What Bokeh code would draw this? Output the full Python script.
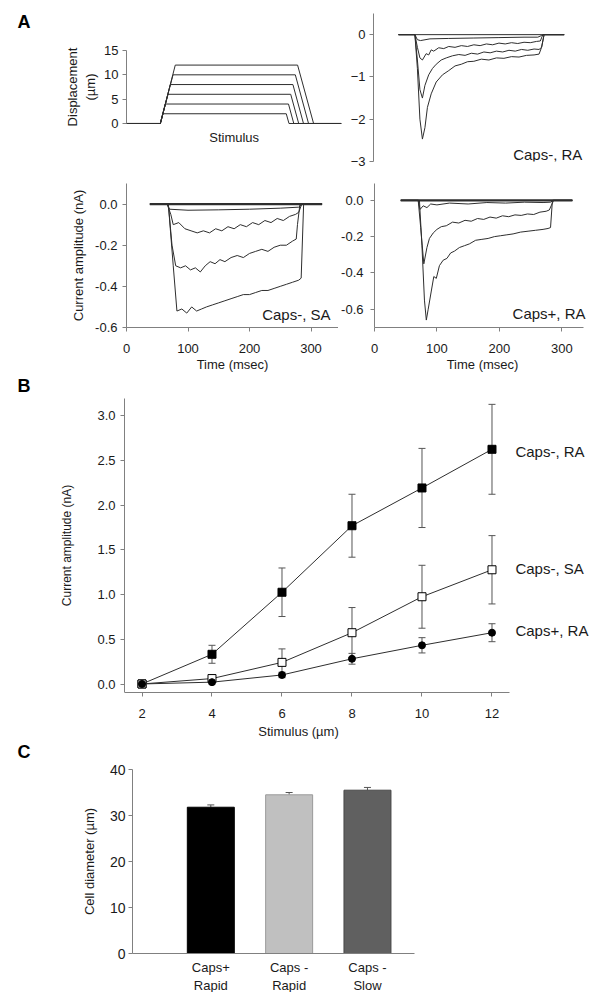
from bokeh.plotting import figure
from bokeh.models import (ColumnDataSource, Whisker, TeeHead, Label, FixedTicker,
                          PrintfTickFormatter, Range1d)
from bokeh.layouts import column, row
from bokeh.embed import file_html
from bokeh.resources import INLINE

FONT = "Liberation Sans"
TXT = "#1a1a1a"
AX = "#808080"
TRACE = "#2e2e2e"

# ---------------- data ----------------
# A, stimulus protocol (time ms, displacement um)
disp_levels = [2, 4, 6, 8, 10, 12]
disp_ramp_start = 55
disp_top_time = [59.3, 63.1, 67.5, 71.2, 75.6, 79.3]
disp_fall_start = [259.8, 263.4, 267.0, 270.6, 274.5, 278.2]
disp_fall_end = [264.2, 272.0, 280.0, 287.8, 296.0, 304.2]
disp_t_begin = 0
disp_t_end = 349
disp_yticks = [0, 5, 10, 15]

# A, Caps-, RA current traces (time ms, current nA)
ra_m_0_t = [40, 304]
ra_m_0_v = [0, 0]
ra_m_1_t = [40, 66, 70, 75, 90, 120, 160, 200, 240, 262, 268, 272, 304]
ra_m_1_v = [0, 0, -0.12, -0.14, -0.1, -0.09, -0.08, -0.07, -0.06, -0.06, -0.02, 0, 0]
ra_m_2_t = [40, 66, 70, 74, 78, 84, 88, 92, 96, 104, 112, 120, 130, 140, 150, 160, 170, 180, 190, 200,
            210, 220, 230, 240, 250, 260, 266, 270, 304]
ra_m_2_v = [0, 0, -0.3, -0.55, -0.6, -0.45, -0.48, -0.36, -0.39, -0.31, -0.33, -0.28, -0.3, -0.26, -0.28,
            -0.24, -0.26, -0.22, -0.24, -0.2, -0.22, -0.19, -0.21, -0.18, -0.19, -0.16, -0.15, 0, 0]
ra_m_3_t = [40, 66, 70, 74, 78, 82, 88, 94, 100, 108, 116, 126, 136, 146, 156, 166, 176, 186, 196, 206,
            216, 226, 236, 246, 256, 264, 268, 272, 304]
ra_m_3_v = [0, 0, -0.6, -1.3, -1.5, -1.2, -0.95, -0.8, -0.7, -0.6, -0.55, -0.5, -0.47, -0.49, -0.44,
            -0.46, -0.41, -0.43, -0.39, -0.41, -0.37, -0.39, -0.35, -0.37, -0.34, -0.35, -0.3, 0, 0]
ra_m_4_t = [40, 66, 70, 74, 78, 82, 86, 92, 100, 110, 120, 130, 140, 150, 160, 172, 184, 196, 208, 220,
            232, 244, 256, 264, 268, 272, 304]
ra_m_4_v = [0, 0, -0.8, -2.0, -2.47, -2.2, -1.72, -1.4, -1.12, -0.95, -0.85, -0.74, -0.7, -0.64, -0.63,
            -0.58, -0.6, -0.55, -0.56, -0.52, -0.53, -0.49, -0.48, -0.46, -0.3, 0, 0]

# A, Caps-, SA current traces
sa_m_0_t = [38, 318]
sa_m_0_v = [0, 0]
sa_m_1_t = [38, 66, 70, 100, 150, 200, 250, 280, 286, 318]
sa_m_1_v = [0, 0, -0.025, -0.03, -0.028, -0.025, -0.02, -0.015, 0, 0]
sa_m_2_t = [38, 66, 72, 76, 85, 95, 105, 115, 125, 135, 145, 155, 165, 175, 185, 195, 205, 215, 225, 235,
            245, 255, 265, 275, 280, 285, 318]
sa_m_2_v = [0, 0, -0.05, -0.1, -0.09, -0.12, -0.13, -0.14, -0.13, -0.14, -0.12, -0.13, -0.11, -0.12, -0.1,
            -0.11, -0.09, -0.1, -0.08, -0.09, -0.07, -0.08, -0.06, -0.05, -0.04, 0, 0]
sa_m_3_t = [38, 68, 74, 80, 88, 96, 104, 112, 120, 128, 136, 144, 152, 160, 170, 180, 190, 200, 210, 220,
            230, 240, 250, 260, 270, 276, 278, 282, 318]
sa_m_3_v = [0, 0, -0.2, -0.3, -0.31, -0.3, -0.32, -0.31, -0.33, -0.3, -0.28, -0.29, -0.27, -0.28, -0.26,
            -0.25, -0.26, -0.24, -0.23, -0.22, -0.23, -0.21, -0.2, -0.2, -0.18, -0.17, -0.1, 0, 0]
sa_m_4_t = [38, 68, 76, 82, 90, 98, 106, 114, 122, 130, 140, 150, 160, 170, 180, 190, 200, 210, 220, 230,
            240, 250, 260, 270, 280, 284, 288, 318]
sa_m_4_v = [0, 0, -0.3, -0.52, -0.51, -0.53, -0.5, -0.52, -0.51, -0.5, -0.49, -0.48, -0.47, -0.46, -0.45,
            -0.44, -0.44, -0.43, -0.42, -0.42, -0.41, -0.4, -0.39, -0.38, -0.37, -0.36, 0, 0]

# A, Caps+, RA current traces
rp_0_t = [42, 317]
rp_0_v = [0, 0]
rp_1_t = [42, 70, 73, 78, 84, 90, 100, 120, 150, 180, 210, 240, 270, 282, 286, 317]
rp_1_v = [0, 0, -0.05, -0.03, -0.04, -0.02, -0.025, -0.015, -0.02, -0.012, -0.015, -0.01, -0.012, -0.01, 0, 0]
rp_2_t = [42, 70, 74, 79, 84, 88, 94, 100, 107, 115, 125, 135, 145, 155, 165, 175, 185, 195, 205, 215,
          225, 235, 245, 255, 265, 275, 280, 283, 287, 317]
rp_2_v = [0, 0, -0.15, -0.35, -0.26, -0.21, -0.18, -0.16, -0.145, -0.14, -0.12, -0.125, -0.11, -0.115, -0.1,
          -0.105, -0.092, -0.098, -0.085, -0.09, -0.08, -0.083, -0.075, -0.078, -0.065, -0.06, -0.053, -0.03, 0, 0]
rp_3_t = [42, 72, 76, 80, 83, 86, 91, 95, 99, 104, 110, 116, 122, 128, 136, 144, 152, 162, 172, 182,
          192, 202, 212, 222, 234, 246, 258, 270, 278, 282, 285, 317]
rp_3_v = [0, 0, -0.25, -0.55, -0.66, -0.6, -0.5, -0.42, -0.43, -0.36, -0.33, -0.32, -0.29, -0.28, -0.26,
          -0.25, -0.24, -0.22, -0.215, -0.21, -0.2, -0.195, -0.19, -0.185, -0.175, -0.17, -0.165, -0.16,
          -0.155, -0.15, 0, 0]

cur_ticks_sa = [0, -0.2, -0.4, -0.6]
cur_ticks_rp = [0, -0.2, -0.4, -0.6]
cur_ticks_ra = [0, -1, -2, -3]
time_ticks = [0, 100, 200, 300]

# B, stimulus-response
stim = [2, 4, 6, 8, 10, 12]
ra_neg_mean = [0.01, 0.34, 1.03, 1.77, 2.19, 2.62]
ra_neg_err = [0.01, 0.1, 0.27, 0.35, 0.44, 0.5]
sa_neg_mean = [0.01, 0.07, 0.25, 0.58, 0.98, 1.28]
sa_neg_err = [0.005, 0.04, 0.15, 0.28, 0.35, 0.38]
ra_pos_mean = [0.01, 0.03, 0.11, 0.29, 0.44, 0.58]
ra_pos_err = [0.005, 0.02, 0.03, 0.06, 0.085, 0.1]
b_yticks = [0.0, 0.5, 1.0, 1.5, 2.0, 2.5, 3.0]

# C, cell diameter
cell_groups = ["Caps+\nRapid", "Caps -\nRapid", "Caps -\nSlow"]
cell_pos = [1, 2, 3]
cell_diam = [31.8, 34.5, 35.5]
cell_sem = [0.5, 0.5, 0.6]
cell_fill = ["#000000", "#c0c0c0", "#606060"]
cell_edge = ["#000000", "#9a9a9a", "#474747"]
c_yticks = [0, 10, 20, 30, 40]


# ---------------- helpers ----------------
def make_fig(w, h, xr, yr, left, right, top, bottom):
    p = figure(width=w, height=h, x_range=Range1d(*xr), y_range=Range1d(*yr),
               output_backend="svg", toolbar_location=None,
               min_border_left=left, min_border_right=right,
               min_border_top=top, min_border_bottom=bottom)
    p.outline_line_color = None
    p.xgrid.visible = False
    p.ygrid.visible = False
    return p


def style_axes(p, tick_fs="13px", label_fs="13px"):
    for ax in p.axis:
        ax.axis_line_color = AX
        ax.axis_line_width = 1
        ax.major_tick_line_color = AX
        ax.minor_tick_line_color = None
        ax.major_tick_out = 4
        ax.major_tick_in = 0
        ax.major_label_text_font = FONT
        ax.major_label_text_font_size = tick_fs
        ax.major_label_text_color = TXT
        ax.axis_label_text_font = FONT
        ax.axis_label_text_font_size = label_fs
        ax.axis_label_text_font_style = "normal"
        ax.axis_label_text_color = TXT


def add_label(p, text, x, y, size="15px", align="left", baseline="middle", bold=False):
    p.add_layout(Label(x=x, y=y, text=text, text_font=FONT, text_font_size=size,
                       text_align=align, text_baseline=baseline,
                       text_color="#000000" if bold else TXT,
                       text_font_style="bold" if bold else "normal"))


def add_letter(p, text, x, y):
    add_label(p, text, x, y, size="18px", baseline="middle", bold=True)


# ---------------- A1: stimulus (frame reaches the canvas' left edge) ----------------
fa1 = make_fig(345, 170, (-204.9, 356.1), (-7.81, 22.6), 0, 0, 13, 9)
for lev, top_t, fs, fe in zip(disp_levels, disp_top_time, disp_fall_start, disp_fall_end):
    fa1.line([disp_t_begin, disp_ramp_start, top_t, fs, fe, disp_t_end],
             [0, 0, lev, lev, 0, 0], line_color=TRACE, line_width=1)
style_axes(fa1)
fa1.xaxis.visible = False
fa1.yaxis.fixed_location = 0
fa1.yaxis.ticker = FixedTicker(ticks=disp_yticks)
fa1.yaxis.bounds = (0, 15)
fa1.yaxis.axis_label = "Displacement\n(\u00b5m)"
fa1.yaxis.axis_label_standoff = 3
fa1.yaxis.major_label_standoff = 4
add_label(fa1, "Stimulus", 175, -2.88, size="13px", align="center")
add_letter(fa1, "A", -177.2, 20.81)

# ---------------- A2: Caps-, RA ----------------
fa2 = make_fig(251, 170, (0, 346), (-3, 0.5), 28, 6, 13, 9)
for t, v in [(ra_m_0_t, ra_m_0_v), (ra_m_1_t, ra_m_1_v), (ra_m_2_t, ra_m_2_v),
             (ra_m_3_t, ra_m_3_v), (ra_m_4_t, ra_m_4_v)]:
    fa2.line(t, v, line_color=TRACE, line_width=1)
style_axes(fa2)
fa2.xaxis.visible = False
fa2.yaxis.ticker = FixedTicker(ticks=cur_ticks_ra)
fa2.yaxis.major_label_standoff = 4
add_label(fa2, "Caps-, RA", 333, -2.84, align="right")

# ---------------- A3: Caps-, SA ----------------
fa3 = make_fig(338, 204, (0, 344.7), (-0.6, 0.1), 126, 0, 13, 40)
for t, v, lw in [(sa_m_0_t, sa_m_0_v, 2.2), (sa_m_1_t, sa_m_1_v, 1), (sa_m_2_t, sa_m_2_v, 1),
                 (sa_m_3_t, sa_m_3_v, 1), (sa_m_4_t, sa_m_4_v, 1)]:
    fa3.line(t, v, line_color=TRACE, line_width=lw)
style_axes(fa3)
fa3.xaxis.ticker = FixedTicker(ticks=time_ticks)
fa3.xaxis.axis_label = "Time (msec)"
fa3.xaxis.major_label_standoff = 12
fa3.xaxis.axis_label_standoff = 1
fa3.yaxis.ticker = FixedTicker(ticks=cur_ticks_sa)
fa3.yaxis.formatter = PrintfTickFormatter(format="%.1f")
fa3.yaxis.axis_label = "Current amplitude (nA)"
fa3.yaxis.major_label_standoff = 5
fa3.yaxis.axis_label_standoff = 6
add_label(fa3, "Caps-, SA", 331.7, -0.535, align="right")

# ---------------- A4: Caps+, RA ----------------
fa4 = make_fig(258, 204, (0, 346), (-0.701, 0.093), 35, 6, 13, 40)
for t, v, lw in [(rp_0_t, rp_0_v, 2.2), (rp_1_t, rp_1_v, 1), (rp_2_t, rp_2_v, 1), (rp_3_t, rp_3_v, 1)]:
    fa4.line(t, v, line_color=TRACE, line_width=lw)
style_axes(fa4)
fa4.xaxis.ticker = FixedTicker(ticks=time_ticks)
fa4.xaxis.bounds = (0, 335)
fa4.xaxis.axis_label = "Time (msec)"
fa4.xaxis.major_label_standoff = 12
fa4.xaxis.axis_label_standoff = 1
fa4.yaxis.ticker = FixedTicker(ticks=cur_ticks_rp)
fa4.yaxis.formatter = PrintfTickFormatter(format="%.1f")
fa4.yaxis.major_label_standoff = 7
add_label(fa4, "Caps+, RA", 338, -0.626, align="right")

# ---------------- B (frame spans the full width, axis fixed at x=1.5) ----------------
fb = make_fig(596, 367, (-2.043, 14.986), (-0.085, 3.452), 0, 0, 0, 43)
series = [
    (ra_neg_mean, ra_neg_err, "square", "#000000", 8),
    (sa_neg_mean, sa_neg_err, "square", "#ffffff", 8),
    (ra_pos_mean, ra_pos_err, "circle", "#000000", 7),
]
for mean, err, marker, fill, size in series:
    src = ColumnDataSource(dict(x=stim, y=mean,
                                lo=[m - e for m, e in zip(mean, err)],
                                hi=[m + e for m, e in zip(mean, err)]))
    fb.add_layout(Whisker(source=src, base="x", upper="hi", lower="lo",
                          line_color="#555555", line_width=1,
                          upper_head=TeeHead(size=7, line_color="#555555", line_width=1),
                          lower_head=TeeHead(size=7, line_color="#555555", line_width=1)))
    fb.line("x", "y", source=src, line_color=TRACE, line_width=1)
    fb.scatter("x", "y", source=src, marker=marker, size=size, fill_color=fill,
               line_color="#000000", line_width=1)
style_axes(fb)
fb.xaxis.ticker = FixedTicker(ticks=stim)
fb.xaxis.bounds = (1.5, 12.5)
fb.xaxis.axis_label = "Stimulus (\u00b5m)"
fb.xaxis.major_label_standoff = 12
fb.xaxis.axis_label_standoff = 3
fb.yaxis.fixed_location = 1.5
fb.yaxis.bounds = (-0.085, 3.19)
fb.yaxis.ticker = FixedTicker(ticks=b_yticks)
fb.yaxis.formatter = PrintfTickFormatter(format="%.1f")
fb.yaxis.axis_label = "Current amplitude (nA)"
fb.yaxis.axis_label_text_font_size = "12px"
fb.yaxis.major_label_standoff = 5
fb.yaxis.axis_label_standoff = 20
add_label(fb, "Caps-, RA", 12.67, 2.593)
add_label(fb, "Caps-, SA", 12.67, 1.294)
add_label(fb, "Caps+, RA", 12.67, 0.603)
add_letter(fb, "B", -1.557, 3.321)

# ---------------- C (frame is the whole canvas, both axes fixed) ----------------
fc = make_fig(596, 251, (-1.685, 5.924), (-8.478, 46.087), 0, 0, 0, 0)
csrc = ColumnDataSource(dict(x=cell_pos, top=cell_diam, fill=cell_fill, edge=cell_edge,
                             hi=[d + s for d, s in zip(cell_diam, cell_sem)]))
fc.add_layout(Whisker(source=csrc, base="x", upper="hi", lower="top",
                      line_color="#555555", line_width=1,
                      upper_head=TeeHead(size=7, line_color="#555555", line_width=1),
                      lower_head=None))
fc.vbar(x="x", top="top", bottom=0, width=0.6, source=csrc, fill_color="fill",
        line_color="edge", line_width=1)
style_axes(fc)
fc.xaxis.fixed_location = 0
fc.xaxis.ticker = FixedTicker(ticks=cell_pos)
fc.xaxis.bounds = (0, 3.6)
fc.xaxis.major_label_overrides = {p: g for p, g in zip(cell_pos, cell_groups)}
fc.xaxis.major_tick_out = 0
fc.xaxis.major_label_standoff = 6
fc.yaxis.fixed_location = 0
fc.yaxis.bounds = (0, 40)
fc.yaxis.ticker = FixedTicker(ticks=c_yticks)
fc.yaxis.axis_label = "Cell diameter (\u00b5m)"
fc.yaxis.major_label_standoff = 3
fc.yaxis.axis_label_standoff = 10
fc.yaxis.major_label_text_font_size = "14px"
add_letter(fc, "C", -1.468, 43.8)

layout = column(row(fa1, fa2), row(fa3, fa4), fb, fc)
open("out.html", "w").write(file_html(layout, INLINE))
